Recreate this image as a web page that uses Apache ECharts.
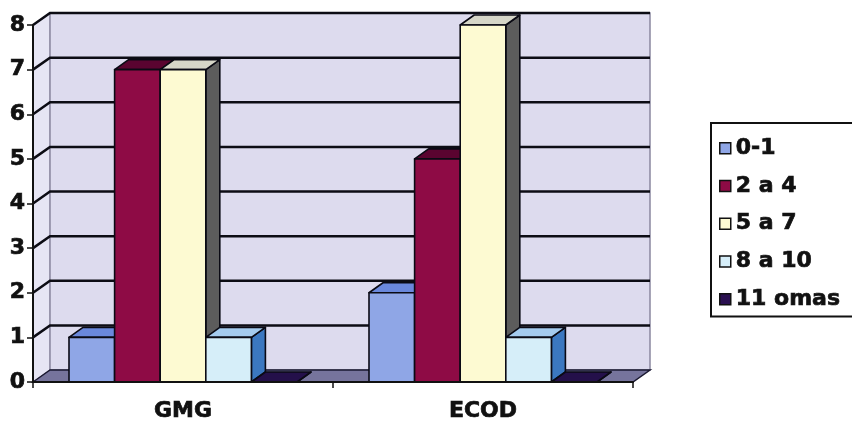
<!DOCTYPE html>
<html>
<head>
<meta charset="utf-8">
<script src="https://cdn.jsdelivr.net/npm/echarts@6/dist/echarts.min.js"></script>
<style>
  html, body { margin: 0; padding: 0; background: #ffffff; }
  #chart { width: 852px; height: 423px; }
</style>
</head>
<body>
<div id="chart"></div>
<script>
// Categories, series and values
const categories = ['GMG', 'ECOD'];
const seriesNames = ['0-1', '2 a 4', '5 a 7', '8 a 10', '11 omas'];
const gmgValues = [1, 7, 7, 1, 0];
const ecodValues = [2, 5, 8, 1, 0];
const yTicks = [0, 1, 2, 3, 4, 5, 6, 7, 8];

// Face colours per series: front, top, side
const palette = [
  { front: '#8fa6e6', top: '#6a88dc', side: '#3f5fae' },
  { front: '#8e0b45', top: '#5a0430', side: '#4a0425' },
  { front: '#fdfad2', top: '#d6d6c8', side: '#5c5c5c' },
  { front: '#d6eef9', top: '#a4cbee', side: '#3b78c0' },
  { front: '#2a1050', top: '#24104a', side: '#1a0838' }
];

// Oblique depth of walls and of bars
const WALL_DX = 17, WALL_DY = -12;
const BAR_DX = 14, BAR_DY = -10;
const BAR_FRAC = 0.152;
const FONT = 'DejaVu Sans';
const INK = '#111111';

// Heavy bold text shared by axes and legend
function heavyText(size) {
  return {
    fontFamily: FONT, fontWeight: 'bold', fontSize: size, color: INK,
    textBorderColor: INK, textBorderWidth: 0.7
  };
}

const chart = echarts.init(document.getElementById('chart'), null, { renderer: 'canvas' });

// Walls and floor of the 3D box
function renderBackdrop(params, api) {
  const cs = params.coordSys;
  const x0 = cs.x, x1 = cs.x + cs.width;
  const yTop = cs.y, yBot = cs.y + cs.height;
  return {
    type: 'group',
    children: [
      { type: 'polygon', shape: { points: [[x0, yBot], [x0, yTop], [x0 + WALL_DX, yTop + WALL_DY], [x0 + WALL_DX, yBot + WALL_DY]] },
        style: { fill: '#e6e5f4', stroke: '#9a98b0', lineWidth: 1 } },
      { type: 'rect', shape: { x: x0 + WALL_DX, y: yTop + WALL_DY, width: cs.width, height: cs.height },
        style: { fill: '#dddbee', stroke: '#8a88a0', lineWidth: 1.5 } },
      { type: 'polygon', shape: { points: [[x0, yBot], [x0 + WALL_DX, yBot + WALL_DY], [x1 + WALL_DX, yBot + WALL_DY], [x1, yBot]] },
        style: { fill: '#76749c', stroke: '#1a1830', lineWidth: 1.5 } }
    ]
  };
}

// Gridlines on the side wall and the back wall
function renderGrid(params, api) {
  const cs = params.coordSys;
  const y = api.coord([0, api.value(1)])[1];
  const x0 = cs.x;
  return {
    type: 'polyline',
    shape: { points: [[x0, y], [x0 + WALL_DX, y + WALL_DY], [x0 + cs.width + WALL_DX, y + WALL_DY]] },
    style: { stroke: '#0c0c14', lineWidth: 2.5, fill: null }
  };
}

function makeBarRenderer(idx) {
  const col = palette[idx];
  return function (params, api) {
    const c = api.value(0), v = api.value(1);
    const band = api.size([1, 0])[0];
    const bw = band * BAR_FRAC;
    const base = api.coord([c, 0]);
    const top = api.coord([c, v]);
    const xl = base[0] - 2.5 * bw + idx * bw;
    const xr = xl + bw;
    const yb = base[1], yt = top[1];
    const stroke = { stroke: '#0a0a14', lineWidth: 1.6, lineJoin: 'round' };
    return {
      type: 'group',
      children: [
        { type: 'polygon', shape: { points: [[xr, yt], [xr + BAR_DX, yt + BAR_DY], [xr + BAR_DX, yb + BAR_DY], [xr, yb]] },
          style: Object.assign({ fill: col.side }, stroke) },
        { type: 'polygon', shape: { points: [[xl, yt], [xl + BAR_DX, yt + BAR_DY], [xr + BAR_DX, yt + BAR_DY], [xr, yt]] },
          style: Object.assign({ fill: col.top }, stroke) },
        { type: 'rect', shape: { x: xl, y: yt, width: bw, height: yb - yt },
          style: Object.assign({ fill: col.front }, stroke) }
      ]
    };
  };
}

const barSeries = seriesNames.map((name, i) => ({
  name: name,
  type: 'custom',
  coordinateSystem: 'cartesian2d',
  renderItem: makeBarRenderer(i),
  itemStyle: { color: palette[i].front },
  encode: { x: 0, y: 1 },
  data: [[0, gmgValues[i]], [1, ecodValues[i]]],
  z: 3
}));

const option = {
  backgroundColor: '#ffffff',
  animation: false,
  grid: { left: 33, right: 219, top: 25, bottom: 41 },
  legend: {
    orient: 'vertical',
    left: 711,
    top: 123,
    padding: [14, 40, 6, 8],
    itemGap: 15,
    itemWidth: 11,
    itemHeight: 11,
    icon: 'rect',
    borderColor: INK,
    borderWidth: 2,
    itemStyle: { borderColor: INK, borderWidth: 1.5 },
    textStyle: heavyText(22),
    data: seriesNames
  },
  xAxis: {
    type: 'category',
    data: categories,
    z: 10,
    axisLine: { lineStyle: { color: INK, width: 2 } },
    axisTick: { show: true, length: 6, lineStyle: { color: INK, width: 1.5 } },
    axisLabel: Object.assign(heavyText(22), { margin: 18 }),
    splitLine: { show: false }
  },
  yAxis: {
    type: 'value',
    min: 0,
    max: 8,
    interval: 1,
    z: 10,
    axisLine: { show: true, lineStyle: { color: INK, width: 2 } },
    axisTick: { show: true, length: 6, lineStyle: { color: INK, width: 1.5 } },
    axisLabel: Object.assign(heavyText(22), { margin: 8 }),
    splitLine: { show: false }
  },
  series: [
    {
      type: 'custom',
      name: 'backdrop',
      coordinateSystem: 'cartesian2d',
      renderItem: renderBackdrop,
      data: [[0, 0]],
      silent: true,
      z: 1
    },
    {
      type: 'custom',
      name: 'gridlines',
      coordinateSystem: 'cartesian2d',
      renderItem: renderGrid,
      data: yTicks.slice(1).map(v => [0, v]),
      silent: true,
      z: 2
    }
  ].concat(barSeries)
};

chart.setOption(option);
</script>
</body>
</html>
